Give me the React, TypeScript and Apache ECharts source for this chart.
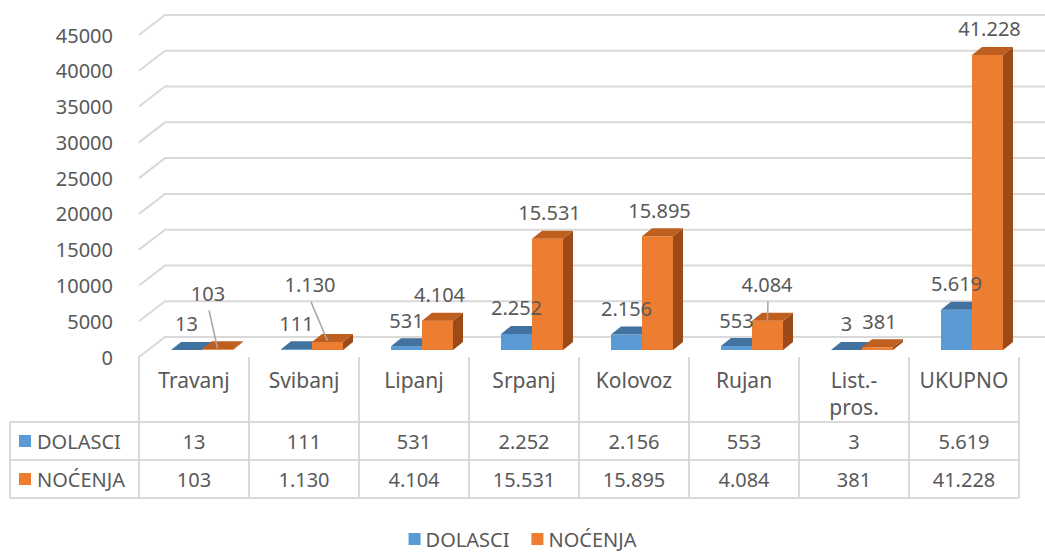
import React, { useEffect, useRef } from "react";
import * as echarts from "echarts";

const categories = ["Travanj", "Svibanj", "Lipanj", "Srpanj", "Kolovoz", "Rujan", "List.-\npros.", "UKUPNO"];
const dolasci = [13, 111, 531, 2252, 2156, 553, 3, 5619];
const nocenja = [103, 1130, 4104, 15531, 15895, 4084, 381, 41228];
const yTicks = [0, 5000, 10000, 15000, 20000, 25000, 30000, 35000, 40000, 45000];

// label displacement (layout) for NOĆENJA labels with leader lines
const nocLabelShift: Record<number, [number, number]> = {
  0: [-11.5, -30],
  1: [-19.5, -31],
  5: [-2.5, -10.6],
};

const FONT = "'Noto Sans', 'Open Sans', sans-serif";
const TXT = "#595959";
const GRIDC = "#D9D9D9";

const W = 1045;
const H = 552;
const GRID_LEFT = 139;
const GRID_RIGHT = 26;
const GRID_TOP = 35;
const GRID_BOTTOM = 195;

const BW = 31; // bar width
const SHIFT = 8; // perspective x shift of bars
const LIFT = 7; // bars sit above the front floor edge
const DX = 10;
const DY = -8;
const BACK_DX = 26;
const BACK_DY = -20;

const fmt = (n: number) => String(n).replace(/\B(?=(\d{3})+(?!\d))/g, ".");

const colors = {
  blue: { front: "#5B9BD5", top: "#42729F", side: "#3E6A95" },
  orange: { front: "#ED7D31", top: "#BE5F1F", side: "#9C4A18" },
};

function makeBar(name: string, values: number[], c: { front: string; top: string; side: string }, left: boolean) {
  return {
    type: "custom",
    name,
    xAxisIndex: 0,
    yAxisIndex: 0,
    itemStyle: { color: c.front },
    data: values.map((v, i) => [i, v]),
    encode: { x: 0, y: 1 },
    renderItem: (params: any, api: any) => {
      const i = api.value(0);
      const v = api.value(1);
      const base = api.coord([i, 0]);
      const top = api.coord([i, v]);
      const x0 = left ? base[0] + SHIFT - BW : base[0] + SHIFT;
      const x1 = x0 + BW;
      const yb = base[1] - LIFT;
      const yt = top[1] - LIFT;
      const children: any[] = [
        {
          type: "polygon",
          shape: { points: [[x1, yb], [x1 + DX, yb + DY], [x1 + DX, yt + DY], [x1, yt]] },
          style: { fill: c.side },
        },
        { type: "rect", shape: { x: x0, y: yt, width: BW, height: Math.max(yb - yt, 0) }, style: { fill: c.front } },
        {
          type: "polygon",
          shape: { points: [[x0, yt], [x1, yt], [x1 + DX, yt + DY], [x0 + DX, yt + DY]] },
          style: { fill: c.top },
        },
      ];
      let lx = x0 + BW / 2 + (left ? 0 : 2);
      let ly = yt - 26;
      const sh = !left ? nocLabelShift[i] : undefined;
      if (sh) {
        lx += sh[0];
        ly += sh[1];
        children.push({
          type: "line",
          shape: { x1: lx + 1, y1: ly + 17, x2: x0 + BW / 2, y2: yt - 1 },
          style: { stroke: "#A6A6A6", lineWidth: 1.5 },
          z2: 50,
        });
      }
      children.push({
        type: "text",
        x: lx,
        y: ly,
        z2: 100,
        style: {
          text: fmt(v),
          fill: TXT,
          fontSize: 20,
          fontFamily: FONT,
          align: "center",
          verticalAlign: "middle",
        },
      });
      return { type: "group", children };
    },
  };
}

export default function App() {
  const ref = useRef<HTMLDivElement>(null);
  useEffect(() => {
    if (!ref.current) return;
    const chart = echarts.init(ref.current, undefined, { renderer: "svg" });

    const axisBase = {
      type: "category",
      data: categories,
      gridIndex: 0,
      position: "bottom",
      axisLine: { show: false },
      axisTick: { show: false },
      splitLine: { show: false },
    };

    const tableX0 = 10;
    const rowTop = H - GRID_BOTTOM; // 357
    const r1 = 422;
    const r2 = 460;
    const r3 = 498;
    const colW = (W - GRID_LEFT - GRID_RIGHT) / categories.length;
    const tableRight = W - GRID_RIGHT;
    const lines: any[] = [];
    for (let k = 0; k <= categories.length; k++) {
      const x = GRID_LEFT + k * colW;
      lines.push({ type: "line", shape: { x1: x, y1: rowTop, x2: x, y2: r3 }, style: { stroke: GRIDC, lineWidth: 2 } });
    }
    [r1, r2, r3].forEach((y) =>
      lines.push({ type: "line", shape: { x1: tableX0, y1: y, x2: tableRight, y2: y }, style: { stroke: GRIDC, lineWidth: 2 } })
    );
    lines.push({ type: "line", shape: { x1: tableX0, y1: r1, x2: tableX0, y2: r3 }, style: { stroke: GRIDC, lineWidth: 2 } });
    const rowHeader = (y: number, color: string, text: string) => [
      { type: "rect", shape: { x: 19, y: y - 6, width: 12, height: 12 }, style: { fill: color } },
      {
        type: "text",
        x: 37,
        y,
        style: { text, fill: TXT, fontSize: 20, fontFamily: FONT, verticalAlign: "middle", align: "left" },
      },
    ];

    chart.setOption({
      animation: false,
      backgroundColor: "#FFFFFF",
      textStyle: { fontFamily: FONT },
      grid: { left: GRID_LEFT, right: GRID_RIGHT, top: GRID_TOP, bottom: GRID_BOTTOM },
      xAxis: [
        {
          ...axisBase,
          axisLabel: { color: TXT, fontSize: 21, fontFamily: FONT, margin: 9, lineHeight: 27, interval: 0 },
        },
        {
          ...axisBase,
          offset: 84,
          axisLabel: {
            color: TXT,
            fontSize: 20,
            fontFamily: FONT,
            margin: 0,
            verticalAlign: "middle",
            interval: 0,
            formatter: (_v: string, idx: number) => fmt(dolasci[idx]),
          },
        },
        {
          ...axisBase,
          offset: 122,
          axisLabel: {
            color: TXT,
            fontSize: 20,
            fontFamily: FONT,
            margin: 0,
            verticalAlign: "middle",
            interval: 0,
            formatter: (_v: string, idx: number) => fmt(nocenja[idx]),
          },
        },
      ],
      yAxis: {
        type: "value",
        min: 0,
        max: 45000,
        interval: 5000,
        axisLine: { show: false },
        axisTick: { show: false },
        splitLine: { show: false },
        axisLabel: {
          color: TXT,
          fontSize: 20,
          fontFamily: FONT,
          margin: 26,
          formatter: (v: number) => String(v),
        },
      },
      legend: {
        data: ["DOLASCI", "NOĆENJA"],
        left: "center",
        top: 529,
        padding: 0,
        icon: "rect",
        itemWidth: 12,
        itemHeight: 12,
        itemGap: 22,
        textStyle: { color: TXT, fontSize: 20, fontFamily: FONT },
      },
      graphic: [...lines, ...rowHeader(441, colors.blue.front, "DOLASCI"), ...rowHeader(479, colors.orange.front, "NOĆENJA")],
      series: [
        {
          type: "custom",
          name: "grid",
          xAxisIndex: 0,
          yAxisIndex: 0,
          silent: true,
          data: yTicks.map((t) => [0, t]),
          encode: { x: 0, y: 1 },
          renderItem: (params: any, api: any) => {
            const p = api.coord([0, api.value(1)]);
            const band = api.size([1, 0])[0];
            const x0 = p[0] - band / 2;
            return {
              type: "polyline",
              shape: {
                points: [
                  [x0, p[1]],
                  [x0 + BACK_DX, p[1] + BACK_DY],
                  [W, p[1] + BACK_DY],
                ],
              },
              style: { stroke: GRIDC, lineWidth: 2, fill: "none" },
            };
          },
        },
        makeBar("DOLASCI", dolasci, colors.blue, true),
        makeBar("NOĆENJA", nocenja, colors.orange, false),
      ],
    });
    return () => chart.dispose();
  }, []);
  return <div ref={ref} style={{ position: "fixed", left: 0, top: 0, width: W, height: H }} />;
}
